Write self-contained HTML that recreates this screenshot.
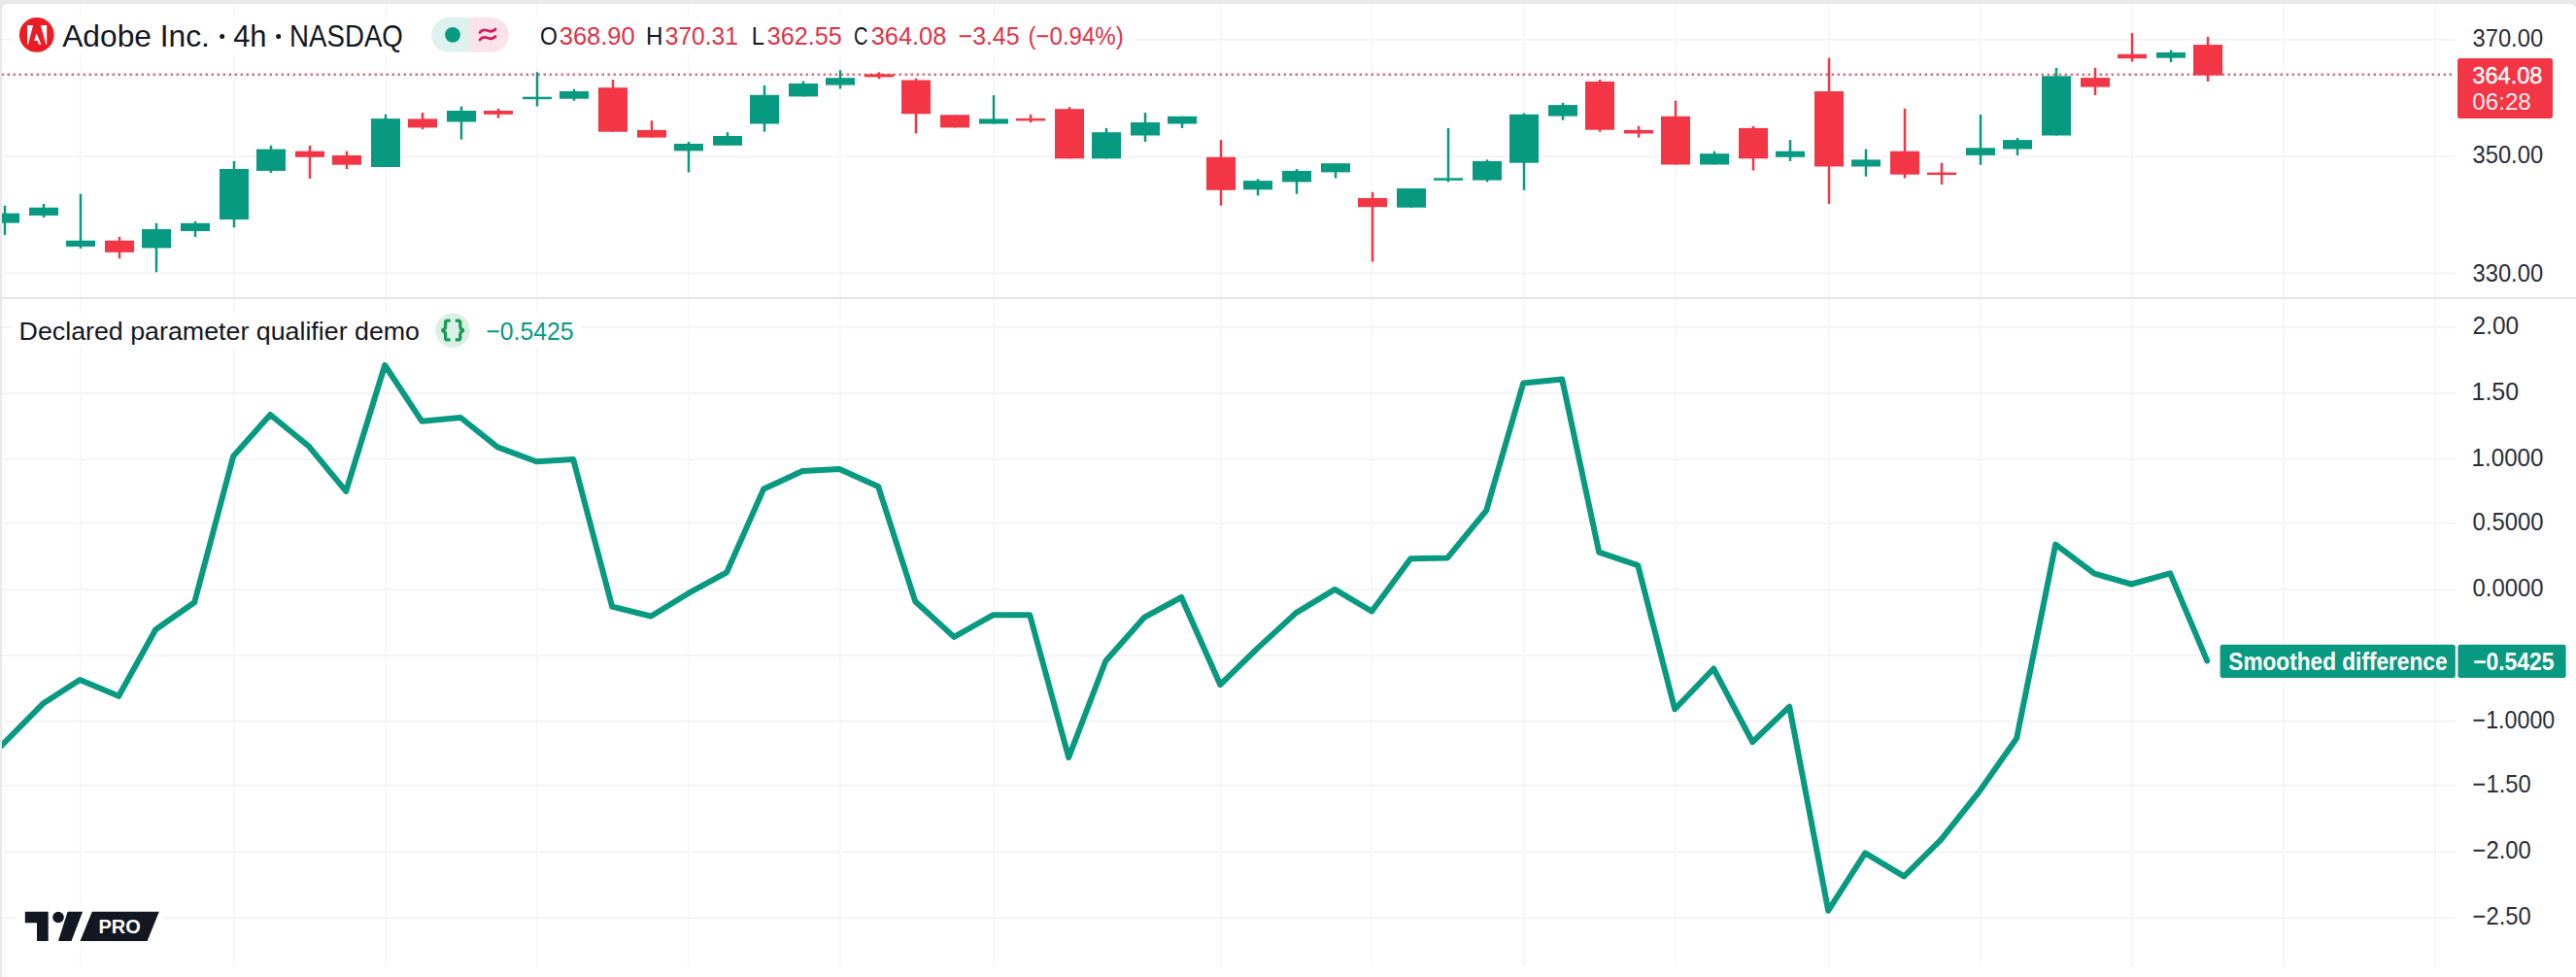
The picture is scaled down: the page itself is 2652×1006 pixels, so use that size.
<!DOCTYPE html>
<html><head><meta charset="utf-8"><style>
html,body{margin:0;padding:0;width:2652px;height:1006px;overflow:hidden;background:#fff}
</style></head><body>
<svg width="2652" height="1006" viewBox="0 0 2652 1006" style="position:absolute;left:0;top:0">
<rect x="0" y="0" width="2652" height="1006" fill="#e9e9e9"/>
<path d="M2 10 Q2 4 8 4 L2646 4 Q2652 4 2652 10 L2652 1006 L2 1006 Z" fill="#ffffff"/>
<rect x="82" y="4" width="2" height="991" fill="#f7f7f7"/>
<rect x="240" y="4" width="2" height="991" fill="#f7f7f7"/>
<rect x="396" y="4" width="2" height="991" fill="#f7f7f7"/>
<rect x="552" y="4" width="2" height="991" fill="#f7f7f7"/>
<rect x="708" y="4" width="2" height="991" fill="#f7f7f7"/>
<rect x="864" y="4" width="2" height="991" fill="#f7f7f7"/>
<rect x="1022" y="4" width="2" height="991" fill="#f7f7f7"/>
<rect x="1256" y="4" width="2" height="991" fill="#f7f7f7"/>
<rect x="1411" y="4" width="2" height="991" fill="#f7f7f7"/>
<rect x="1568" y="4" width="2" height="991" fill="#f7f7f7"/>
<rect x="1724" y="4" width="2" height="991" fill="#f7f7f7"/>
<rect x="1882" y="4" width="2" height="991" fill="#f7f7f7"/>
<rect x="2038" y="4" width="2" height="991" fill="#f7f7f7"/>
<rect x="2194" y="4" width="2" height="991" fill="#f7f7f7"/>
<rect x="2350" y="4" width="2" height="991" fill="#f7f7f7"/>
<rect x="2506" y="4" width="2" height="991" fill="#f7f7f7"/>
<rect x="2" y="39.8" width="2526" height="2" fill="#f4f4f4"/>
<rect x="2" y="160.2" width="2526" height="2" fill="#f4f4f4"/>
<rect x="2" y="280.4" width="2526" height="2" fill="#f4f4f4"/>
<rect x="2" y="335.8" width="2526" height="2" fill="#f4f4f4"/>
<rect x="2" y="404" width="2526" height="2" fill="#f4f4f4"/>
<rect x="2" y="471.9" width="2526" height="2" fill="#f4f4f4"/>
<rect x="2" y="537.9" width="2526" height="2" fill="#f4f4f4"/>
<rect x="2" y="606" width="2526" height="2" fill="#f4f4f4"/>
<rect x="2" y="674" width="2526" height="2" fill="#f4f4f4"/>
<rect x="2" y="741.7" width="2526" height="2" fill="#f4f4f4"/>
<rect x="2" y="807.7" width="2526" height="2" fill="#f4f4f4"/>
<rect x="2" y="876.2" width="2526" height="2" fill="#f4f4f4"/>
<rect x="2" y="944.2" width="2526" height="2" fill="#f4f4f4"/>
<rect x="2" y="306" width="2650" height="2" fill="#e6e6e6"/>
<line x1="2" y1="76.8" x2="2524" y2="76.8" stroke="#da6f7d" stroke-width="2.5" stroke-dasharray="2.5 3.5" stroke-dashoffset="0.45"/>
<svg x="2" y="4" width="2526" height="302" viewBox="2 4 2526 302">
<rect x="3.75" y="211.7" width="2.5" height="30.2" fill="#089981"/>
<rect x="-10" y="219.6" width="30" height="10.0" fill="#089981"/>
<rect x="43.75" y="209.9" width="2.5" height="14.1" fill="#089981"/>
<rect x="30" y="213.7" width="30" height="8.2" fill="#089981"/>
<rect x="81.75" y="199.7" width="2.5" height="56.2" fill="#089981"/>
<rect x="68" y="247.7" width="30" height="6.2" fill="#089981"/>
<rect x="121.75" y="243.9" width="2.5" height="22.3" fill="#F23645"/>
<rect x="108" y="247.7" width="30" height="12.1" fill="#F23645"/>
<rect x="159.75" y="229.8" width="2.5" height="50.4" fill="#089981"/>
<rect x="146" y="236.0" width="30" height="19.4" fill="#089981"/>
<rect x="199.75" y="227.8" width="2.5" height="16.1" fill="#089981"/>
<rect x="186" y="229.8" width="30" height="8.2" fill="#089981"/>
<rect x="239.75" y="165.9" width="2.5" height="68.3" fill="#089981"/>
<rect x="226" y="174.0" width="30" height="52.0" fill="#089981"/>
<rect x="277.75" y="149.8" width="2.5" height="28.1" fill="#089981"/>
<rect x="264" y="153.6" width="30" height="22.3" fill="#089981"/>
<rect x="317.75" y="149.8" width="2.5" height="34.0" fill="#F23645"/>
<rect x="304" y="155.7" width="30" height="6.1" fill="#F23645"/>
<rect x="355.75" y="155.7" width="2.5" height="18.3" fill="#F23645"/>
<rect x="342" y="160.0" width="30" height="9.7" fill="#F23645"/>
<rect x="395.75" y="117.8" width="2.5" height="54.2" fill="#089981"/>
<rect x="382" y="122.1" width="30" height="49.9" fill="#089981"/>
<rect x="433.75" y="116" width="2.5" height="17.1" fill="#F23645"/>
<rect x="420" y="122.4" width="30" height="9.0" fill="#F23645"/>
<rect x="473.75" y="109.6" width="2.5" height="34.0" fill="#089981"/>
<rect x="460" y="114.0" width="30" height="11.5" fill="#089981"/>
<rect x="511.75" y="111.9" width="2.5" height="9.7" fill="#F23645"/>
<rect x="498" y="114.0" width="30" height="3.8" fill="#F23645"/>
<rect x="551.75" y="74.3" width="2.5" height="35.1" fill="#089981"/>
<rect x="538" y="99.7" width="30" height="2.5" fill="#089981"/>
<rect x="589.75" y="91.7" width="2.5" height="12.0" fill="#089981"/>
<rect x="576" y="94.0" width="30" height="7.7" fill="#089981"/>
<rect x="629.75" y="82" width="2.5" height="53.7" fill="#F23645"/>
<rect x="616" y="90.2" width="30" height="45.5" fill="#F23645"/>
<rect x="669.75" y="124.2" width="2.5" height="17.4" fill="#F23645"/>
<rect x="656" y="133.9" width="30" height="7.7" fill="#F23645"/>
<rect x="707.75" y="146" width="2.5" height="31.4" fill="#089981"/>
<rect x="694" y="148.0" width="30" height="7.4" fill="#089981"/>
<rect x="747.75" y="136.2" width="2.5" height="13.6" fill="#089981"/>
<rect x="734" y="140.0" width="30" height="9.8" fill="#089981"/>
<rect x="785.75" y="87.9" width="2.5" height="47.8" fill="#089981"/>
<rect x="772" y="97.8" width="30" height="29.7" fill="#089981"/>
<rect x="825.75" y="83.6" width="2.5" height="15.8" fill="#089981"/>
<rect x="812" y="86.0" width="30" height="13.4" fill="#089981"/>
<rect x="863.75" y="72.3" width="2.5" height="19.1" fill="#089981"/>
<rect x="850" y="80.2" width="30" height="7.4" fill="#089981"/>
<rect x="903.75" y="74.3" width="2.5" height="6.9" fill="#F23645"/>
<rect x="890" y="76.3" width="30" height="3.1" fill="#F23645"/>
<rect x="941.75" y="80.7" width="2.5" height="56.8" fill="#F23645"/>
<rect x="928" y="82.5" width="30" height="34.8" fill="#F23645"/>
<rect x="981.75" y="118.3" width="2.5" height="13.1" fill="#F23645"/>
<rect x="968" y="118.3" width="30" height="13.1" fill="#F23645"/>
<rect x="1021.75" y="98.1" width="2.5" height="29.4" fill="#089981"/>
<rect x="1008" y="122.4" width="30" height="5.1" fill="#089981"/>
<rect x="1059.75" y="117.8" width="2.5" height="8.4" fill="#F23645"/>
<rect x="1046" y="121.9" width="30" height="2.5" fill="#F23645"/>
<rect x="1099.75" y="110.1" width="2.5" height="53.2" fill="#F23645"/>
<rect x="1086" y="112.2" width="30" height="51.1" fill="#F23645"/>
<rect x="1137.75" y="131.9" width="2.5" height="31.4" fill="#089981"/>
<rect x="1124" y="136.2" width="30" height="27.1" fill="#089981"/>
<rect x="1177.75" y="116" width="2.5" height="29.9" fill="#089981"/>
<rect x="1164" y="126.0" width="30" height="13.5" fill="#089981"/>
<rect x="1215.75" y="119.8" width="2.5" height="12.1" fill="#089981"/>
<rect x="1202" y="119.8" width="30" height="7.7" fill="#089981"/>
<rect x="1255.75" y="144.1" width="2.5" height="67.6" fill="#F23645"/>
<rect x="1242" y="161.8" width="30" height="34.0" fill="#F23645"/>
<rect x="1293.75" y="184.3" width="2.5" height="17.1" fill="#089981"/>
<rect x="1280" y="186.1" width="30" height="9.2" fill="#089981"/>
<rect x="1333.75" y="174.1" width="2.5" height="25.6" fill="#089981"/>
<rect x="1320" y="175.9" width="30" height="11.5" fill="#089981"/>
<rect x="1373.75" y="168.2" width="2.5" height="15.3" fill="#089981"/>
<rect x="1360" y="168.2" width="30" height="9.2" fill="#089981"/>
<rect x="1411.75" y="197.9" width="2.5" height="71.6" fill="#F23645"/>
<rect x="1398" y="204.0" width="30" height="9.2" fill="#F23645"/>
<rect x="1451.75" y="194" width="2.5" height="19.7" fill="#089981"/>
<rect x="1438" y="194.0" width="30" height="19.7" fill="#089981"/>
<rect x="1489.75" y="131.9" width="2.5" height="55.5" fill="#089981"/>
<rect x="1476" y="183.3" width="30" height="2.5" fill="#089981"/>
<rect x="1529.75" y="164.4" width="2.5" height="23.0" fill="#089981"/>
<rect x="1516" y="165.9" width="30" height="19.7" fill="#089981"/>
<rect x="1567.75" y="116.5" width="2.5" height="79.3" fill="#089981"/>
<rect x="1554" y="117.8" width="30" height="49.9" fill="#089981"/>
<rect x="1607.75" y="105.8" width="2.5" height="17.9" fill="#089981"/>
<rect x="1594" y="108.1" width="30" height="11.5" fill="#089981"/>
<rect x="1645.75" y="82" width="2.5" height="53.7" fill="#F23645"/>
<rect x="1632" y="84.0" width="30" height="49.7" fill="#F23645"/>
<rect x="1685.75" y="129.8" width="2.5" height="11.8" fill="#F23645"/>
<rect x="1672" y="133.9" width="30" height="3.6" fill="#F23645"/>
<rect x="1723.75" y="103.7" width="2.5" height="65.8" fill="#F23645"/>
<rect x="1710" y="119.8" width="30" height="49.7" fill="#F23645"/>
<rect x="1763.75" y="155.7" width="2.5" height="13.8" fill="#089981"/>
<rect x="1750" y="158.2" width="30" height="11.3" fill="#089981"/>
<rect x="1803.75" y="130" width="2.5" height="45.4" fill="#F23645"/>
<rect x="1790" y="131.9" width="30" height="31.4" fill="#F23645"/>
<rect x="1841.75" y="144.1" width="2.5" height="21.8" fill="#089981"/>
<rect x="1828" y="155.7" width="30" height="6.1" fill="#089981"/>
<rect x="1881.75" y="59.7" width="2.5" height="150.2" fill="#F23645"/>
<rect x="1868" y="94.0" width="30" height="77.5" fill="#F23645"/>
<rect x="1919.75" y="153.6" width="2.5" height="28.1" fill="#089981"/>
<rect x="1906" y="164.4" width="30" height="7.1" fill="#089981"/>
<rect x="1959.75" y="111.9" width="2.5" height="71.6" fill="#F23645"/>
<rect x="1946" y="155.7" width="30" height="24.0" fill="#F23645"/>
<rect x="1997.75" y="167.7" width="2.5" height="22.2" fill="#F23645"/>
<rect x="1984" y="177.6" width="30" height="2.5" fill="#F23645"/>
<rect x="2037.75" y="118" width="2.5" height="51.7" fill="#089981"/>
<rect x="2024" y="152.3" width="30" height="7.6" fill="#089981"/>
<rect x="2075.75" y="142" width="2.5" height="17.9" fill="#089981"/>
<rect x="2062" y="144.1" width="30" height="9.4" fill="#089981"/>
<rect x="2115.75" y="69.9" width="2.5" height="69.6" fill="#089981"/>
<rect x="2102" y="78.3" width="30" height="61.2" fill="#089981"/>
<rect x="2155.75" y="69.9" width="2.5" height="28.1" fill="#F23645"/>
<rect x="2142" y="80.1" width="30" height="9.5" fill="#F23645"/>
<rect x="2193.75" y="34.1" width="2.5" height="29.4" fill="#F23645"/>
<rect x="2180" y="55.8" width="30" height="4.4" fill="#F23645"/>
<rect x="2233.75" y="51.5" width="2.5" height="12.5" fill="#089981"/>
<rect x="2220" y="54.0" width="30" height="5.7" fill="#089981"/>
<rect x="2271.75" y="37.9" width="2.5" height="46.1" fill="#F23645"/>
<rect x="2258" y="46.1" width="30" height="31.5" fill="#F23645"/>
</svg>
<svg x="2" y="308" width="2526" height="690" viewBox="2 308 2526 690"><polyline points="-35.8,806 4.2,765 44.2,724.6 82.2,700 122.2,716.8 160.2,648.2 200.2,620.2 240.2,469.7 278.2,427 318.2,459.8 356.2,505.9 396.2,376 434.2,433.7 474.2,430 512.2,460.4 552.2,475.2 590.2,473 630.2,624.7 670.2,634.5 708.2,611.2 748.2,589.3 786.2,503.4 826.2,485 864.2,483 904.2,501 942.2,619.2 982.2,655.9 1022.2,633.3 1060.2,633.3 1100.2,780 1138.2,680.8 1178.2,635.6 1216.2,615 1256.2,705 1294.2,667.9 1334.2,631.1 1374.2,606.9 1412.2,629.5 1452.2,575.2 1490.2,574.4 1530.2,525.6 1568.2,394.6 1608.2,390.5 1646.2,568.6 1686.2,582.1 1724.2,730.3 1764.2,688.5 1804.2,764 1842.2,727.6 1882.2,937.7 1920.2,878.4 1960.2,902.4 1998.2,864.6 2038.2,814.3 2076.2,760.1 2116.2,560.6 2156.2,590.7 2194.2,601.5 2234.2,590.3 2272.2,680.4" fill="none" stroke="#089981" stroke-width="6" stroke-linejoin="round" stroke-linecap="round"/></svg>
<rect x="12" y="16" width="1156" height="40" fill="#ffffff" opacity="0.88"/>
<rect x="12" y="321" width="586" height="38" fill="#ffffff" opacity="0.88"/>
<circle cx="37.8" cy="35.9" r="17.9" fill="#ED1C24"/>
<path d="M28 26.1 L34.1 26.1 L28.9 45.8 L28 45.8 Z" fill="#fff"/>
<path d="M41.8 26.1 L48.2 26.1 L48.2 45.8 L47.3 45.8 Z" fill="#fff"/>
<path d="M37.6 34.3 L42.4 45.8 L39.9 45.8 L38.6 42.1 L35 42.1 Z" fill="#fff"/>
<circle cx="228.65" cy="37.5" r="2.5" fill="#131722"/>
<circle cx="286.7" cy="37.5" r="2.5" fill="#131722"/>
<path d="M462 18.1 L484 18.1 L484 53.7 L462 53.7 A17.8 17.8 0 0 1 462 18.1 Z" fill="#ddf2ee"/>
<path d="M484 18.1 L506 18.1 A17.8 17.8 0 0 1 506 53.7 L484 53.7 Z" fill="#fce3ea"/>
<circle cx="466" cy="35.8" r="7.9" fill="#089981"/>
<path d="M494 33.5 Q497 29.5 502 31.5 Q507 33.5 510 30" fill="none" stroke="#cf1f5c" stroke-width="2.8" stroke-linecap="round"/>
<path d="M494 41 Q497 37 502 39 Q507 41 510 37.5" fill="none" stroke="#cf1f5c" stroke-width="2.8" stroke-linecap="round"/>
<rect x="2530" y="60" width="98" height="62" rx="2.5" fill="#F23645"/>
<circle cx="466" cy="340.2" r="17.8" fill="#dcefe6"/>
<path d="M463.6 330.1 L460.6 330.1 Q458.6 330.1 458.6 332.1 L458.6 336.2 Q458.6 339.2 454.7 340.2 Q458.6 341.2 458.6 344.2 L458.6 347.9 Q458.6 349.9 460.6 349.9 L463.6 349.9" fill="none" stroke="#169c55" stroke-width="3.3"/>
<path d="M468.8 330.1 L471.8 330.1 Q473.8 330.1 473.8 332.1 L473.8 336.2 Q473.8 339.2 477.7 340.2 Q473.8 341.2 473.8 344.2 L473.8 347.9 Q473.8 349.9 471.8 349.9 L468.8 349.9" fill="none" stroke="#169c55" stroke-width="3.3"/>
<rect x="2285.6" y="663.8" width="242.2" height="34.2" rx="2.5" fill="#089981"/>
<rect x="2530.4" y="663.8" width="111.2" height="34.2" rx="2.5" fill="#089981"/>
<rect x="17" y="930" width="151" height="48" fill="#ffffff"/>
<path d="M25.8 938.7 L49.7 938.7 L49.7 969 L38 969 L38 950.3 L25.8 950.3 Z" fill="#131722"/>
<circle cx="60" cy="944.5" r="5.8" fill="#131722"/>
<path d="M69.6 938.7 L85.1 938.7 L73.5 969 L60 969 Z" fill="#131722"/>
<path d="M94.8 938.7 L163.8 938.7 L151.6 969 L82.5 969 Z" fill="#131722"/>
<text transform="translate(64.20 48) scale(0.9920 1)" x="0" y="0" font-family="Liberation Sans, sans-serif" font-size="32" font-weight="normal" fill="#131722" >Adobe Inc.</text>
<text transform="translate(240.13 48) scale(0.9667 1)" x="0" y="0" font-family="Liberation Sans, sans-serif" font-size="32" font-weight="normal" fill="#131722" >4h</text>
<text transform="translate(298.11 48) scale(0.8641 1)" x="0" y="0" font-family="Liberation Sans, sans-serif" font-size="32" font-weight="normal" fill="#131722" >NASDAQ</text>
<text transform="translate(555.90 45.7) scale(0.9000 1)" x="0" y="0" font-family="Liberation Sans, sans-serif" font-size="25.6" font-weight="normal" fill="#131722" >O</text>
<text transform="translate(575.70 45.7) scale(0.9974 1)" x="0" y="0" font-family="Liberation Sans, sans-serif" font-size="25.6" font-weight="normal" fill="#de3347" >368.90</text>
<text transform="translate(664.91 45.7) scale(0.9467 1)" x="0" y="0" font-family="Liberation Sans, sans-serif" font-size="25.6" font-weight="normal" fill="#131722" >H</text>
<text transform="translate(684.74 45.7) scale(0.9605 1)" x="0" y="0" font-family="Liberation Sans, sans-serif" font-size="25.6" font-weight="normal" fill="#de3347" >370.31</text>
<text transform="translate(773.65 45.7) scale(0.9250 1)" x="0" y="0" font-family="Liberation Sans, sans-serif" font-size="25.6" font-weight="normal" fill="#131722" >L</text>
<text transform="translate(789.72 45.7) scale(0.9842 1)" x="0" y="0" font-family="Liberation Sans, sans-serif" font-size="25.6" font-weight="normal" fill="#de3347" >362.55</text>
<text transform="translate(879.11 45.7) scale(0.7882 1)" x="0" y="0" font-family="Liberation Sans, sans-serif" font-size="25.6" font-weight="normal" fill="#131722" >C</text>
<text transform="translate(896.71 45.7) scale(0.9921 1)" x="0" y="0" font-family="Liberation Sans, sans-serif" font-size="25.6" font-weight="normal" fill="#de3347" >364.08</text>
<text transform="translate(986.63 45.7) scale(0.9714 1)" x="0" y="0" font-family="Liberation Sans, sans-serif" font-size="25.6" font-weight="normal" fill="#de3347" >−3.45</text>
<text transform="translate(1058.52 45.7) scale(0.9396 1)" x="0" y="0" font-family="Liberation Sans, sans-serif" font-size="25.6" font-weight="normal" fill="#de3347" >(−0.94%)</text>
<text transform="translate(2545.57 48.1) scale(0.9303 1)" x="0" y="0" font-family="Liberation Sans, sans-serif" font-size="25.5" font-weight="normal" fill="#2a2e39" >370.00</text>
<text transform="translate(2545.57 168.2) scale(0.9303 1)" x="0" y="0" font-family="Liberation Sans, sans-serif" font-size="25.5" font-weight="normal" fill="#2a2e39" >350.00</text>
<text transform="translate(2545.57 289.5) scale(0.9303 1)" x="0" y="0" font-family="Liberation Sans, sans-serif" font-size="25.5" font-weight="normal" fill="#2a2e39" >330.00</text>
<text transform="translate(2545.34 85.7) scale(0.9554 1)" x="0" y="0" font-family="Liberation Sans, sans-serif" font-size="24.7" font-weight="normal" fill="#ffffff" stroke="#ffffff" stroke-width="0.35">364.08</text>
<text transform="translate(2545.32 113.3) scale(0.9783 1)" x="0" y="0" font-family="Liberation Sans, sans-serif" font-size="24.7" font-weight="normal" fill="#ffecee" >06:28</text>
<text transform="translate(19.54 349.8) scale(1.0310 1)" x="0" y="0" font-family="Liberation Sans, sans-serif" font-size="26" font-weight="normal" fill="#131722" >Declared parameter qualifier demo</text>
<text transform="translate(500.24 349.8) scale(0.9620 1)" x="0" y="0" font-family="Liberation Sans, sans-serif" font-size="25.8" font-weight="normal" fill="#089981" >−0.5425</text>
<text transform="translate(2545.54 343.8) scale(0.9583 1)" x="0" y="0" font-family="Liberation Sans, sans-serif" font-size="25.5" font-weight="normal" fill="#2a2e39" >2.00</text>
<text transform="translate(2544.54 412) scale(0.9787 1)" x="0" y="0" font-family="Liberation Sans, sans-serif" font-size="25.5" font-weight="normal" fill="#2a2e39" >1.50</text>
<text transform="translate(2544.61 479.9) scale(0.9467 1)" x="0" y="0" font-family="Liberation Sans, sans-serif" font-size="25.5" font-weight="normal" fill="#2a2e39" >1.0000</text>
<text transform="translate(2545.57 545.9) scale(0.9342 1)" x="0" y="0" font-family="Liberation Sans, sans-serif" font-size="25.5" font-weight="normal" fill="#2a2e39" >0.5000</text>
<text transform="translate(2545.57 614) scale(0.9342 1)" x="0" y="0" font-family="Liberation Sans, sans-serif" font-size="25.5" font-weight="normal" fill="#2a2e39" >0.0000</text>
<text transform="translate(2545.59 749.7) scale(0.9121 1)" x="0" y="0" font-family="Liberation Sans, sans-serif" font-size="25.5" font-weight="normal" fill="#2a2e39" >−1.0000</text>
<text transform="translate(2545.57 815.7) scale(0.9317 1)" x="0" y="0" font-family="Liberation Sans, sans-serif" font-size="25.5" font-weight="normal" fill="#2a2e39" >−1.50</text>
<text transform="translate(2545.57 884.2) scale(0.9317 1)" x="0" y="0" font-family="Liberation Sans, sans-serif" font-size="25.5" font-weight="normal" fill="#2a2e39" >−2.00</text>
<text transform="translate(2545.57 952.2) scale(0.9317 1)" x="0" y="0" font-family="Liberation Sans, sans-serif" font-size="25.5" font-weight="normal" fill="#2a2e39" >−2.50</text>
<text transform="translate(2294.29 689.7) scale(0.9061 1)" x="0" y="0" font-family="Liberation Sans, sans-serif" font-size="25" font-weight="bold" fill="#ffffff" >Smoothed difference</text>
<text transform="translate(2546.18 689.7) scale(0.9156 1)" x="0" y="0" font-family="Liberation Sans, sans-serif" font-size="25" font-weight="bold" fill="#ffffff" >−0.5425</text>
<text transform="translate(101.48 961.3) scale(1.0244 1)" x="0" y="0" font-family="Liberation Sans, sans-serif" font-size="19.5" font-weight="bold" fill="#ffffff" >PRO</text>
</svg>
</body></html>
